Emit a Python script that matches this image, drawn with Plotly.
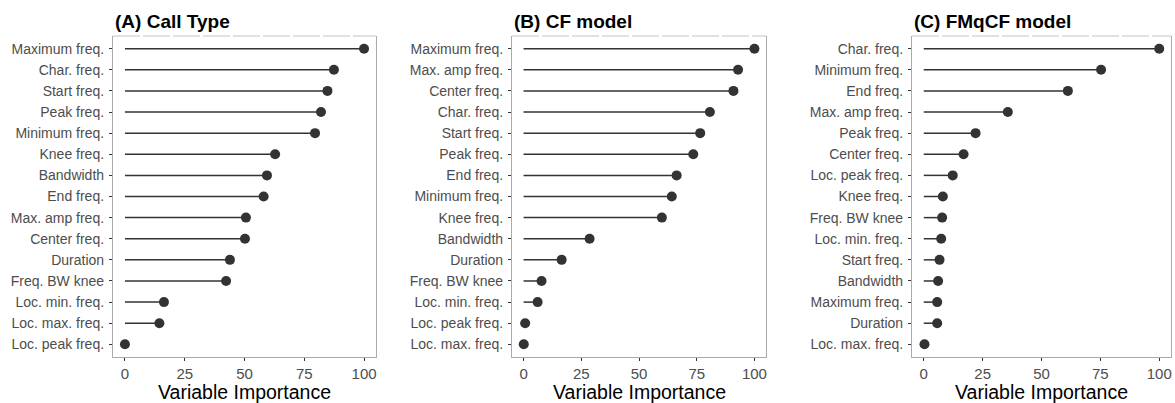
import plotly.graph_objects as go

W, H = 1175, 403

labels_a = ["Maximum freq.", "Char. freq.", "Start freq.", "Peak freq.", "Minimum freq.",
            "Knee freq.", "Bandwidth", "End freq.", "Max. amp freq.", "Center freq.",
            "Duration", "Freq. BW knee", "Loc. min. freq.", "Loc. max. freq.", "Loc. peak freq."]
values_a = [100, 87.4, 84.7, 82.0, 79.5, 62.8, 59.4, 58.0, 50.6, 50.2, 43.9, 42.3, 16.3, 14.4, 0]

labels_b = ["Maximum freq.", "Max. amp freq.", "Center freq.", "Char. freq.", "Start freq.",
            "Peak freq.", "End freq.", "Minimum freq.", "Knee freq.", "Bandwidth",
            "Duration", "Freq. BW knee", "Loc. min. freq.", "Loc. peak freq.", "Loc. max. freq."]
values_b = [100, 92.9, 90.9, 80.7, 76.5, 73.5, 66.3, 64.2, 59.9, 28.6, 16.5, 7.8, 6.1, 0.7, 0.1]

labels_c = ["Char. freq.", "Minimum freq.", "End freq.", "Max. amp freq.", "Peak freq.",
            "Center freq.", "Loc. peak freq.", "Knee freq.", "Freq. BW knee", "Loc. min. freq.",
            "Start freq.", "Bandwidth", "Maximum freq.", "Duration", "Loc. max. freq."]
values_c = [100, 75.3, 61.2, 35.7, 22.0, 16.9, 12.3, 8.1, 7.8, 7.4, 6.7, 6.1, 5.7, 5.7, 0.3]

titles = ["(A) Call Type", "(B) CF model", "(C) FMqCF model"]
x_ticks = [0, 25, 50, 75, 100]
x_title = "Variable Importance"

panels = [(labels_a, values_a), (labels_b, values_b), (labels_c, values_c)]
# pixel boxes of plot panels (left, right)
boxes = [(113, 376), (512, 766), (912, 1171)]
top_px, bot_px = 36, 357

FONT = "Liberation Sans, Arial, sans-serif"
DARK = "#333333"
TXT = "#4d4d4d"
BORDER = "#ababab"

fig = go.Figure()
layout = dict(width=W, height=H, margin=dict(l=0, r=0, t=0, b=0),
              paper_bgcolor="white", plot_bgcolor="white", showlegend=False,
              font=dict(family=FONT, color=TXT))
annotations = []
shapes = []

for i, ((labs, vals), title, (l, r)) in enumerate(zip(panels, titles, boxes)):
    xa = "x" if i == 0 else f"x{i+1}"
    ya = "y" if i == 0 else f"y{i+1}"
    xs, ys = [], []
    for lab, v in zip(labs, vals):
        xs += [0, v, None]
        ys += [lab, lab, None]
    fig.add_trace(go.Scatter(x=xs, y=ys, mode="lines", xaxis=xa, yaxis=ya,
                             line=dict(color=DARK, width=1.5), hoverinfo="skip"))
    fig.add_trace(go.Scatter(x=vals, y=labs, mode="markers", xaxis=xa, yaxis=ya,
                             marker=dict(color=DARK, size=10)))
    axis_common = dict(showgrid=False, zeroline=False, showline=True,
                       linecolor=BORDER, linewidth=1.2, ticks="outside", ticklen=3,
                       tickcolor=DARK, tickwidth=1)
    layout["xaxis" if i == 0 else f"xaxis{i+1}"] = dict(
        **axis_common, mirror=False, domain=[l / W, r / W], range=[-5, 105], tickvals=x_ticks,
        tickfont=dict(size=15, color=TXT, family=FONT), anchor=ya, ticklabelstandoff=0)
    layout["yaxis" if i == 0 else f"yaxis{i+1}"] = dict(
        **axis_common, mirror=True, domain=[1 - bot_px / H, 1 - top_px / H], type="category",
        categoryorder="array", categoryarray=list(reversed(labs)), range=[-0.6, 14.6],
        tickfont=dict(size=14, color=TXT, family=FONT), anchor=xa, ticklabelstandoff=2)
    # top border (light, broken as in the reference)
    shapes.append(dict(type="line", xref="paper", yref="paper", x0=l / W, x1=r / W,
                       y0=1 - top_px / H, y1=1 - top_px / H,
                       line=dict(color="#c4c4c4", width=1.2, dash="27px,3px")))
    annotations.append(dict(text=f"<b>{title}</b>", x=l / W, y=1 - 22 / H, xref="paper",
                            yref="paper", xanchor="left", yanchor="middle", showarrow=False,
                            font=dict(size=19, color="#000000", family=FONT)))
    annotations.append(dict(text=x_title, x=(l + r) / 2 / W, y=1 - 392 / H, xref="paper",
                            yref="paper", xanchor="center", yanchor="middle", showarrow=False,
                            font=dict(size=19.5, color="#000000", family=FONT)))

layout["annotations"] = annotations
layout["shapes"] = shapes
fig.update_layout(**layout)
fig.write_html("out.html")
